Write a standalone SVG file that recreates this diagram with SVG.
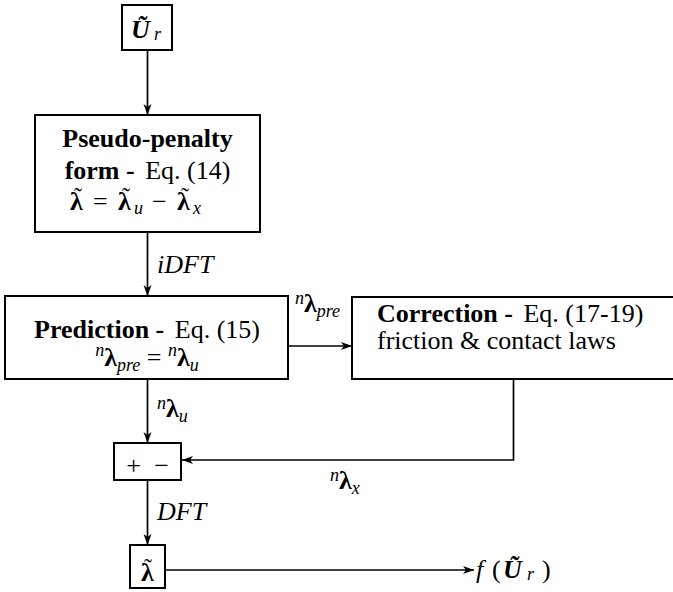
<svg xmlns="http://www.w3.org/2000/svg" width="673" height="592" viewBox="0 0 673 592">
<style>
text{font-family:"Liberation Serif","Times New Roman",serif;font-size:26px;fill:#000}
.b{font-weight:bold}
.i{font-style:italic}
.bi{font-weight:bold;font-style:italic}
.s{font-size:18px;font-style:italic}
.t{font-size:24px;text-anchor:middle}
.box{fill:#fff;stroke:#000;stroke-width:2}
.c{fill:none;stroke:#000;stroke-width:1.7}
</style>
<defs>
<marker id="ah" markerUnits="userSpaceOnUse" markerWidth="12" markerHeight="10" refX="11" refY="4" orient="auto">
<path d="M0,0 L11,4 L0,8 L3,4 Z" fill="#000"/>
</marker>
</defs>
<rect width="673" height="592" fill="#fff"/>
<g id="connectors">
<line class="c" x1="147.5" y1="50" x2="147.5" y2="115" marker-end="url(#ah)"/>
<line class="c" x1="147.5" y1="232" x2="147.5" y2="296" marker-end="url(#ah)"/>
<line class="c" x1="289" y1="346" x2="352" y2="346" marker-end="url(#ah)"/>
<line class="c" x1="147.5" y1="379" x2="147.5" y2="443" marker-end="url(#ah)"/>
<polyline class="c" points="513.5,379 513.5,460 182,460" marker-end="url(#ah)"/>
<line class="c" x1="147.5" y1="480" x2="147.5" y2="545" marker-end="url(#ah)"/>
<line class="c" x1="165" y1="570" x2="474" y2="570" marker-end="url(#ah)"/>
</g>
<g id="labels">
<text x="157" y="273" class="i" font-size="25">iDFT</text>
<text x="295" y="312"><tspan class="s" dy="-8">n</tspan><tspan class="b" dy="8">λ</tspan><tspan class="s" dy="5">pre</tspan></text>
<text x="157" y="417"><tspan class="s" dy="-8">n</tspan><tspan class="b" dy="8">λ</tspan><tspan class="s" dy="5">u</tspan></text>
<text x="330" y="489"><tspan class="s" dy="-8">n</tspan><tspan class="b" dy="8">λ</tspan><tspan class="s" dy="5">x</tspan></text>
<text x="157" y="520" class="i" font-size="25">DFT</text>
</g>
<g id="node-Ur">
<rect class="box" x="122" y="5" width="50" height="45"/>
<text x="131" y="38" class="bi" font-size="28">Ũ</text>
<text x="154" y="40" class="s">r</text>
</g>
<g id="node-pseudo">
<rect class="box" x="35" y="115" width="225" height="117"/>
<text x="147.5" y="147" text-anchor="middle" class="b">Pseudo-penalty</text>
<text x="147.5" y="179" text-anchor="middle"><tspan class="b">form - </tspan><tspan dx="4">Eq. (14)</tspan></text>
<text x="70" y="210" class="b" font-size="28">λ</text>
<text x="78" y="204" class="t">˜</text>
<text x="93" y="210">=</text>
<text x="118" y="210" class="b" font-size="28">λ</text>
<text x="126" y="204" class="t">˜</text>
<text x="134" y="214" class="s">u</text>
<text x="152" y="210">−</text>
<text x="177" y="210" class="b" font-size="28">λ</text>
<text x="185" y="204" class="t">˜</text>
<text x="193" y="214" class="s">x</text>
</g>
<g id="node-prediction">
<rect class="box" x="5" y="296" width="283" height="83"/>
<text x="147" y="338" text-anchor="middle"><tspan class="b">Prediction - </tspan><tspan dx="4">Eq. (15)</tspan></text>
<text x="147" y="366" text-anchor="middle"><tspan class="s" dy="-10">n</tspan><tspan class="b" dy="10">λ</tspan><tspan class="s" dy="5">pre</tspan><tspan dy="-5"> = </tspan><tspan class="s" dy="-10">n</tspan><tspan class="b" dy="10">λ</tspan><tspan class="s" dy="5">u</tspan></text>
</g>
<g id="node-correction">
<rect class="box" x="352" y="297" width="323" height="82"/>
<text x="377" y="322"><tspan class="b">Correction - </tspan><tspan dx="4">Eq. (17-19)</tspan></text>
<text x="377" y="349">friction &amp; contact laws</text>
</g>
<g id="node-sum">
<rect class="box" x="114" y="443" width="67" height="37"/>
<text x="133.5" y="474" text-anchor="middle" font-size="32">+</text>
<text x="161.5" y="474" text-anchor="middle" font-size="32">−</text>
</g>
<g id="node-lambda">
<rect class="box" x="130" y="545" width="35" height="43"/>
<text x="147.5" y="581" text-anchor="middle" class="b" font-size="28">λ</text>
<text x="148" y="575" class="t">˜</text>
</g>
<g id="output">
<text x="476" y="578" class="i">f</text>
<text x="492" y="578" font-size="30">(</text>
<text x="503" y="578" class="bi" font-size="28">Ũ</text>
<text x="527" y="580" class="s">r</text>
<text x="542" y="578" font-size="30">)</text>
</g>
</svg>
